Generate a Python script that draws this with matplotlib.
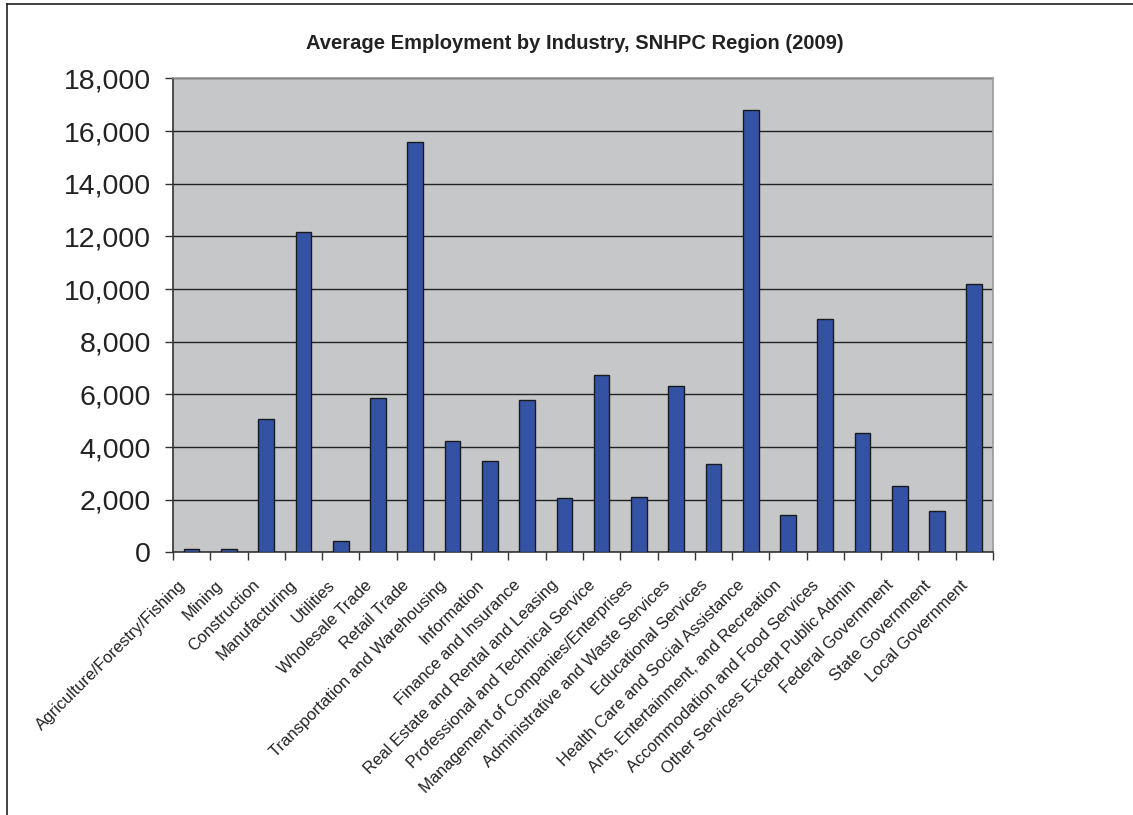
import matplotlib
matplotlib.use("Agg")
import matplotlib.pyplot as plt
from matplotlib.lines import Line2D
from matplotlib.ticker import FuncFormatter
from matplotlib.transforms import ScaledTranslation
import numpy as np

plt.rcParams['font.family'] = ['Liberation Sans', 'DejaVu Sans']

# Data
industries = [
    "Agriculture/Forestry/Fishing", "Mining", "Construction", "Manufacturing",
    "Utilities", "Wholesale Trade", "Retail Trade",
    "Transportation and Warehousing", "Information", "Finance and Insurance",
    "Real Estate and Rental and Leasing", "Professional and Technical Service",
    "Management of Companies/Enterprises", "Administrative and Waste Services",
    "Educational Services", "Health Care and Social Assistance",
    "Arts, Entertainment, and Recreation", "Accommodation and Food Services",
    "Other Services Except Public Admin", "Federal Government",
    "State Government", "Local Government",
]
employment = [150, 150, 5080, 12150, 450, 5870, 15580, 4240, 3490, 5780,
              2050, 6740, 2100, 6320, 3370, 16780, 1420, 8860, 4520, 2535,
              1585, 10210]
y_ticks = [0, 2000, 4000, 6000, 8000, 10000, 12000, 14000, 16000, 18000]

fig = plt.figure(figsize=(11.33, 8.15), dpi=100)
ax = fig.add_axes([0.1527, 0.3221, 0.7237, 0.5818])

x = np.arange(len(industries))
ax.set_facecolor('#C6C7C9')
ax.bar(x, employment, width=0.42, color='#3352A3', edgecolor='#1a1a1a', linewidth=1.0, zorder=3)

ax.set_ylim(0, 18000)
ax.set_xlim(-0.5, len(industries) - 0.5)
ax.set_yticks(y_ticks)
ax.yaxis.set_major_formatter(FuncFormatter(lambda v, p: f"{int(v):,}"))
ax.yaxis.grid(True, color='#222222', linewidth=1.0, zorder=1)

# category ticks sit between the bars, labels at bar centres
ax.set_xticks(np.arange(len(industries) + 1) - 0.5)
ax.set_xticklabels([])
ax.set_xticks(x, minor=True)
ax.set_xticklabels(industries, minor=True, rotation=45, ha='right',
                   rotation_mode='anchor', fontsize=12, color='#222222')
ax.tick_params(axis='x', which='minor', length=0, pad=18)
ax.tick_params(axis='x', which='major', length=6, width=1, color='#333333', direction='out')
ax.tick_params(axis='y', length=6, width=1, color='#333333', labelsize=20.5, pad=10, labelcolor='#222222')

# nudge the slanted labels a bit to the left, like the original
shift = ScaledTranslation(-10 / 72, 0, fig.dpi_scale_trans)
for lbl in ax.get_xticklabels(minor=True):
    lbl.set_transform(lbl.get_transform() + shift)

for side in ['left', 'bottom']:
    ax.spines[side].set_color('#333333')
    ax.spines[side].set_linewidth(1.2)
for side in ['top', 'right']:
    ax.spines[side].set_color('#9a9a9a')
    ax.spines[side].set_linewidth(1.2)

fig.text(0.507, 0.947, "Average Employment by Industry, SNHPC Region (2009)",
         ha='center', va='center', fontsize=14.5, fontweight='bold', color='#222222')

# outer frame (left and top edges only)
fig.add_artist(Line2D([0.0062, 0.0062], [0.0, 0.995], color='#222222', linewidth=1.2))
fig.add_artist(Line2D([0.0062, 1.0], [0.995, 0.995], color='#222222', linewidth=1.2))

fig.savefig("out.png", dpi=100)
